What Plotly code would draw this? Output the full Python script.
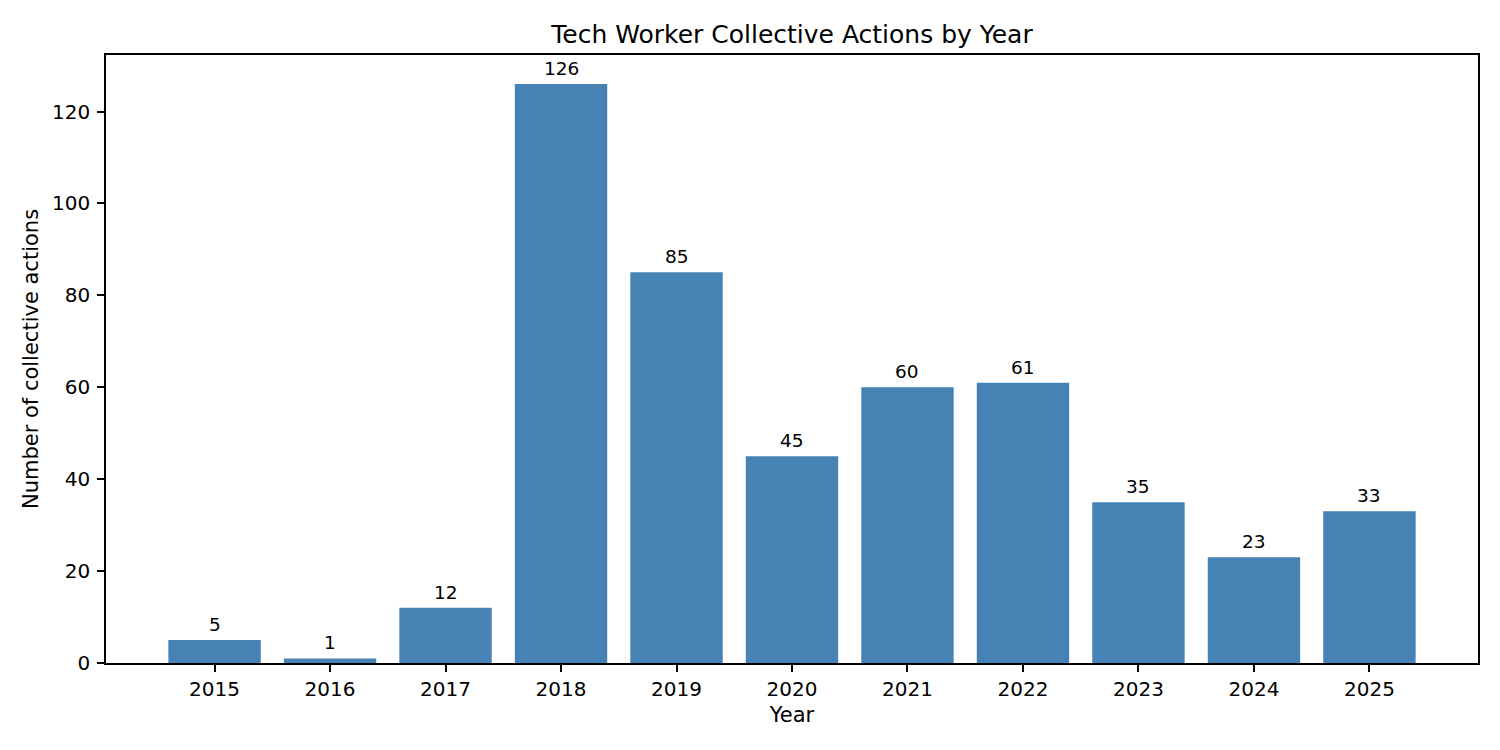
import plotly.graph_objects as go

years = [2015, 2016, 2017, 2018, 2019, 2020, 2021, 2022, 2023, 2024, 2025]
actions = [5, 1, 12, 126, 85, 45, 60, 61, 35, 23, 33]
y_ticks = [0, 20, 40, 60, 80, 100, 120]

font = "DejaVu Sans"

fig = go.Figure()
fig.add_trace(go.Bar(
    x=years, y=actions, width=0.8,
    marker=dict(color="#4682B4", line=dict(width=0)),
))

# value labels above each bar
for yr, n in zip(years, actions):
    fig.add_annotation(x=yr, y=n, text=str(n), showarrow=False,
                       yanchor="bottom", yshift=3,
                       font=dict(family=font, size=18.5, color="black"))

axis_common = dict(showline=True, linecolor="black", linewidth=1.6, mirror=True,
                   ticks="outside", ticklen=7, tickwidth=1.6, tickcolor="black",
                   showgrid=False, zeroline=False,
                   tickfont=dict(family=font, size=20, color="black"))

fig.update_xaxes(range=[2015 - 0.94, 2025 + 0.94], tickvals=years,
                 title=dict(text="Year", font=dict(family=font, size=21, color="black"), standoff=8),
                 **axis_common)
fig.update_yaxes(range=[0, 132.3], tickvals=y_ticks, ticklabelstandoff=3,
                 title=dict(text="Number of collective actions", font=dict(family=font, size=21, color="black"), standoff=8),
                 **axis_common)

# page body has an 8px margin, so the figure is sized/offset to compensate
fig.update_layout(
    width=1492, height=742,
    margin=dict(l=98, r=22, t=47, b=87),
    plot_bgcolor="white", paper_bgcolor="white",
    showlegend=False,
    title=dict(text="Tech Worker Collective Actions by Year", x=0.5, xref="paper",
               y=1, yref="paper", yanchor="bottom", pad=dict(b=12),
               font=dict(family=font, size=25, color="black")),
)

fig.write_html("out.html")
